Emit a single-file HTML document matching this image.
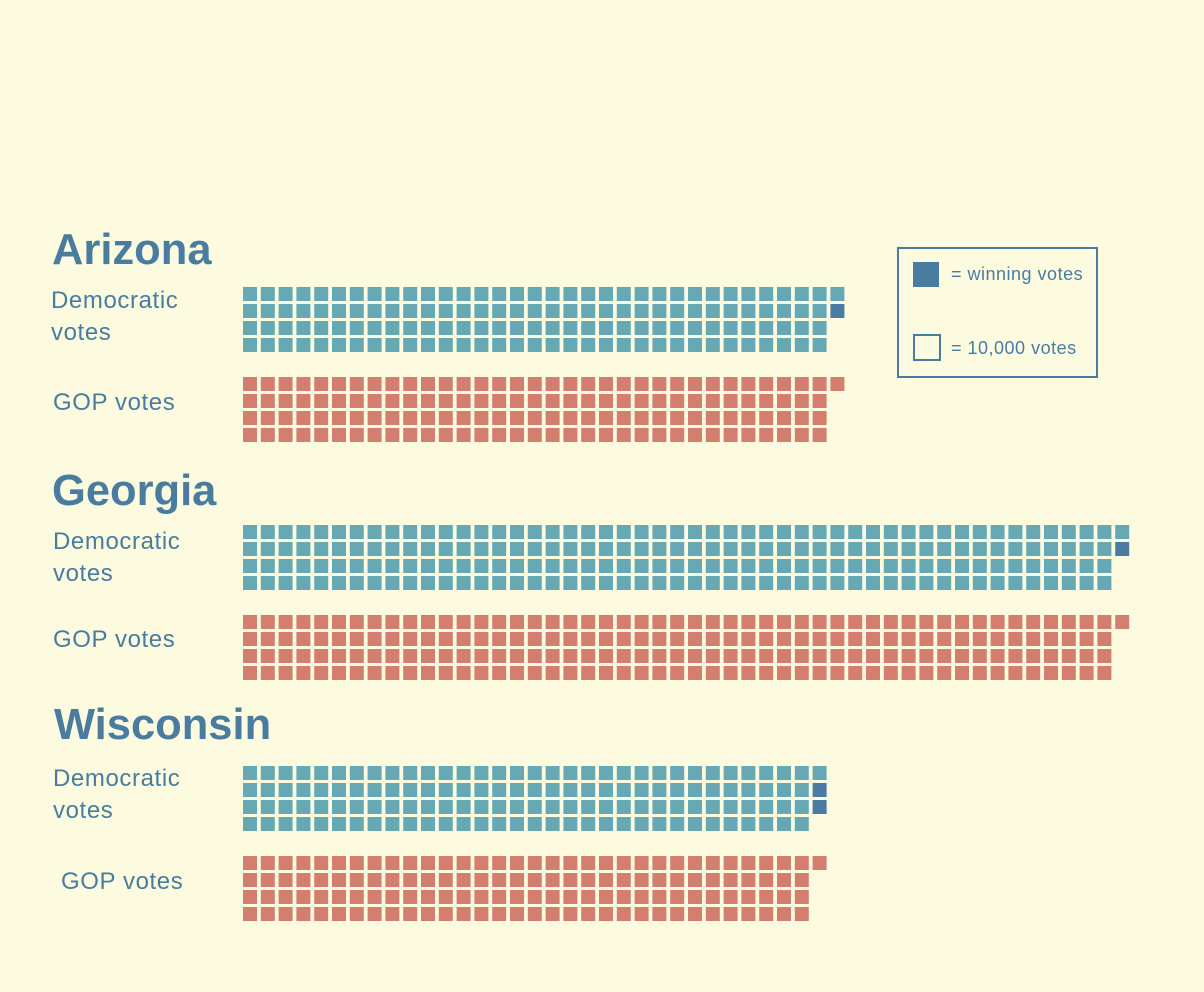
<!DOCTYPE html>
<html><head><meta charset="utf-8"><style>
html,body{margin:0;padding:0;background:#fcfbe0;}
svg{display:block;font-family:"Liberation Sans",sans-serif;}
.t{font-weight:bold;font-size:43.5px;fill:#4a7ca0;}
.l{font-size:24px;fill:#4a7ca0;letter-spacing:0.6px;}
.lg{font-size:18px;fill:#4a7ca0;letter-spacing:0.5px;}
</style></head><body>
<svg id="chart" width="1204" height="992" viewBox="0 0 1204 992">
<rect width="1204" height="992" fill="#fcfbe0"/>
<text class="t" x="52" y="264">Arizona</text>
<text class="l" x="51" y="308">Democratic</text>
<text class="l" x="51" y="340">votes</text>
<text class="l" x="53" y="410">GOP votes</text>
<text class="t" x="52" y="505">Georgia</text>
<text class="l" x="53" y="549">Democratic</text>
<text class="l" x="53" y="581">votes</text>
<text class="l" x="53" y="647">GOP votes</text>
<text class="t" x="54" y="739">Wisconsin</text>
<text class="l" x="53" y="786">Democratic</text>
<text class="l" x="53" y="818">votes</text>
<text class="l" x="61" y="889">GOP votes</text>
<g>
<rect x="898" y="248" width="199" height="129" fill="none" stroke="#4a7ca0" stroke-width="2"/>
<rect x="913" y="262" width="26" height="25" fill="#4a7ca0"/>
<text class="lg" x="951" y="280">= winning votes</text>
<rect x="914" y="335" width="26" height="25" fill="none" stroke="#4a7ca0" stroke-width="2"/>
<text class="lg" x="951" y="354">= 10,000 votes</text>
</g>
<g id="marks"></g>
</svg>
<script>
const states = ["arizona", "georgia", "wisconsin"];
const demSquares = [134, 198, 131];
const gopSquares = [133, 197, 129];
const demTop = [287, 525, 766];
const gopTop = [377, 615, 856];
const X0 = 243, PX = 17.8, PY = 17, SZ = 14;
const ns = "http://www.w3.org/2000/svg";
const g = document.getElementById("marks");
function colX(i){ return X0 + Math.floor(i/4)*PX; }
function rowY(top,i){ return top + (i%4)*PY; }
function draw(state, party, n, top, win){
  for(let i=0;i<n;i++){
    const r=document.createElementNS(ns,"rect");
    r.setAttribute("x",colX(i).toFixed(1));
    r.setAttribute("y",rowY(top,i));
    r.setAttribute("width",SZ);
    r.setAttribute("height",SZ);
    const isWin = party==="dem" && i>=n-win;
    r.setAttribute("fill", party==="gop" ? "#d47e70" : (isWin ? "#4a7ca3" : "#66a9b5"));
    
    
    g.appendChild(r);
  }
}
states.forEach((s,k)=>{
  const win = Math.max(0, demSquares[k]-gopSquares[k]);
  draw(s,"dem",demSquares[k],demTop[k],win);
  draw(s,"gop",gopSquares[k],gopTop[k],0);
});
</script>
</body></html>
